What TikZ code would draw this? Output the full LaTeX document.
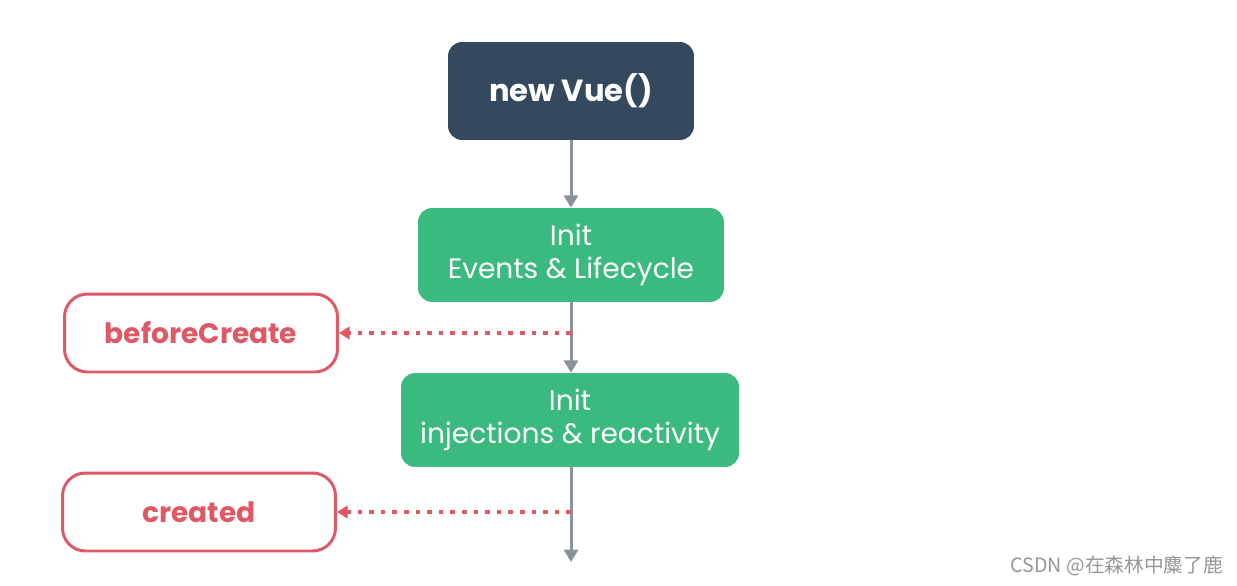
\documentclass[tikz,border=0pt]{standalone}
\usepackage{fontspec}
\setmainfont{Poppins}
\newfontfamily\cjk{Noto Sans CJK SC}
\usetikzlibrary{arrows.meta,positioning}
\definecolor{navy}{RGB}{53,73,94}
\definecolor{vuegreen}{RGB}{59,186,128}
\definecolor{hookred}{RGB}{222,88,102}
\definecolor{steel}{RGB}{138,147,155}
\definecolor{mark}{RGB}{150,150,150}
\tikzset{
  start/.style={fill=navy,text=white,rounded corners=8pt,minimum width=4.92cm,
    minimum height=1.96cm,align=center,font=\fontsize{17.4}{20}\selectfont\bfseries},
  phase/.style={fill=vuegreen,text=white,rounded corners=8pt,minimum height=1.88cm,
    align=center,font=\fontsize{16}{19}\selectfont},
  hook/.style={draw=hookred,fill=white,line width=1.7pt,rounded corners=13pt,
    minimum width=5.46cm,minimum height=1.56cm,text=hookred,
    font=\fontsize{16}{19}\selectfont\bfseries},
  flow/.style={-{Triangle[width=8pt,length=7pt]},draw=steel,line width=1.7pt},
  call/.style={-{Triangle[width=7pt,length=6pt]},draw=hookred,line width=2.2pt,
    dash pattern=on 2.6pt off 4pt},
}
\begin{document}
\begin{tikzpicture}[x=0.02cm,y=-0.02cm]
  \useasboundingbox (0,0) rectangle (1237,585);
  % main line
  \node[start] (vue) at (571,91) {new Vue()};
  \node[phase,minimum width=6.12cm] (events) at (571,255) {Init\\Events \& Lifecycle};
  \node[phase,minimum width=6.76cm] (inject) at (570,420) {Init\\injections \& reactivity};
  \coordinate (down) at (571,562);
  % hooks
  \node[hook] (before) at (201,333) {beforeCreate};
  \node[hook] (created) at (199,512) {created};
  \draw[flow] (vue) -- (events);
  \draw[flow] (events.south -| vue) -- (inject.north -| vue);
  \draw[flow] (inject.south -| vue) -- (down);
  \draw[call] (before.east -| vue) -- (before);
  \draw[call] (created.east -| vue) -- (created);
  % watermark
  \node[text=mark,font=\cjk\fontsize{11.2}{13}\selectfont,anchor=east] (credit) at (1229,566) {CSDN @在森林中麋了鹿};
\end{tikzpicture}
\end{document}
